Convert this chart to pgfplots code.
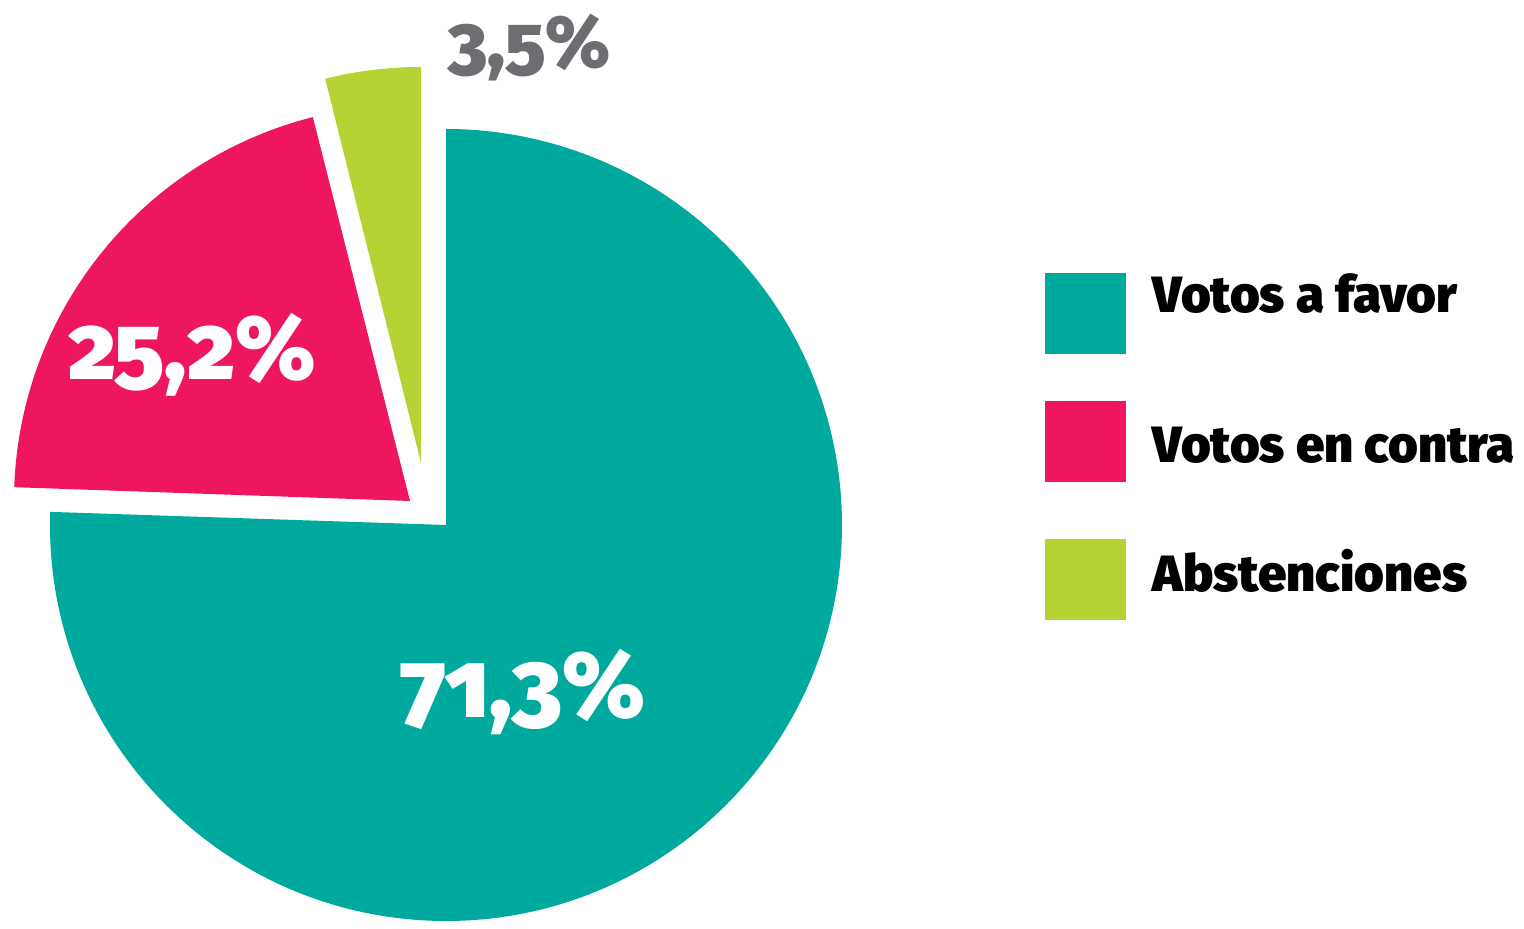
\documentclass[border=0pt]{standalone}
\usepackage{pgfplots}
\pgfplotsset{compat=1.18}
\usepackage{fontspec}
\setmainfont{Fira Sans}[Numbers=OldStyle]
\IfFontExistsTF{Fira Sans Black}{\newfontfamily\hv{Fira Sans Black}[Numbers=OldStyle]}{%
 \IfFontExistsTF{FiraSans-Black.otf}{\newfontfamily\hv{FiraSans-Black.otf}[Numbers=OldStyle]}{%
  \IfFontExistsTF{Fira Sans ExtraBold}{\newfontfamily\hv{Fira Sans ExtraBold}[Numbers=OldStyle]}{%
   \IfFontExistsTF{FiraSans-ExtraBold.otf}{\newfontfamily\hv{FiraSans-ExtraBold.otf}[Numbers=OldStyle]}{%
    \newcommand\hv{\bfseries}}}}}
\definecolor{cfavor}{HTML}{00A99D}
\definecolor{ccontra}{HTML}{EE1660}
\definecolor{cabst}{HTML}{B5D334}
\definecolor{cgray}{HTML}{6D6E71}
\begin{document}
\begin{tikzpicture}
\begin{axis}[
  width=15.24cm, height=9.19cm, scale only axis,
  xmin=0, xmax=1524, ymin=0, ymax=919,
  hide axis, clip=false]
\path (axis cs:0,0) rectangle (axis cs:1524,919);
% pie sectors: centre x, centre y, start angle, end angle
\fill[cfavor] (axis cs:446,394) -- ++(178.1:3.96cm) arc[start angle=178.1, end angle=450, radius=3.96cm] -- cycle;
\fill[ccontra] (axis cs:410,418) -- ++(104.2:3.96cm) arc[start angle=104.2, end angle=178, radius=3.96cm] -- cycle;
\fill[cabst] (axis cs:421,456) -- ++(90:3.96cm) arc[start angle=90, end angle=104, radius=3.96cm] -- cycle;
% value labels
\node[anchor=base west, inner sep=0, text=white, font=\hv\fontsize{26.8}{30}\selectfont] at (axis cs:400,201) {71,3\%};
\node[anchor=base west, inner sep=0, text=white, font=\hv\fontsize{26}{30}\selectfont] at (axis cs:68,539) {25,2\%};
\node[anchor=base west, inner sep=0, text=cgray, font=\hv\fontsize{21}{24}\selectfont] at (axis cs:448,851) {3,5\%};
% legend
\fill[cfavor] (axis cs:1045,565) rectangle (axis cs:1126,646);
\fill[ccontra] (axis cs:1045,437) rectangle (axis cs:1126,518);
\fill[cabst] (axis cs:1045,299) rectangle (axis cs:1126,380);
\node[anchor=base west, inner sep=0, font=\hv\fontsize{14.5}{16}\selectfont] at (axis cs:1152,606) {Votos a favor};
\node[anchor=base west, inner sep=0, font=\hv\fontsize{14.5}{16}\selectfont] at (axis cs:1152,456) {Votos en contra};
\node[anchor=base west, inner sep=0, font=\hv\fontsize{14.5}{16}\selectfont] at (axis cs:1152,327) {Abstenciones};
\end{axis}
\end{tikzpicture}
\end{document}
